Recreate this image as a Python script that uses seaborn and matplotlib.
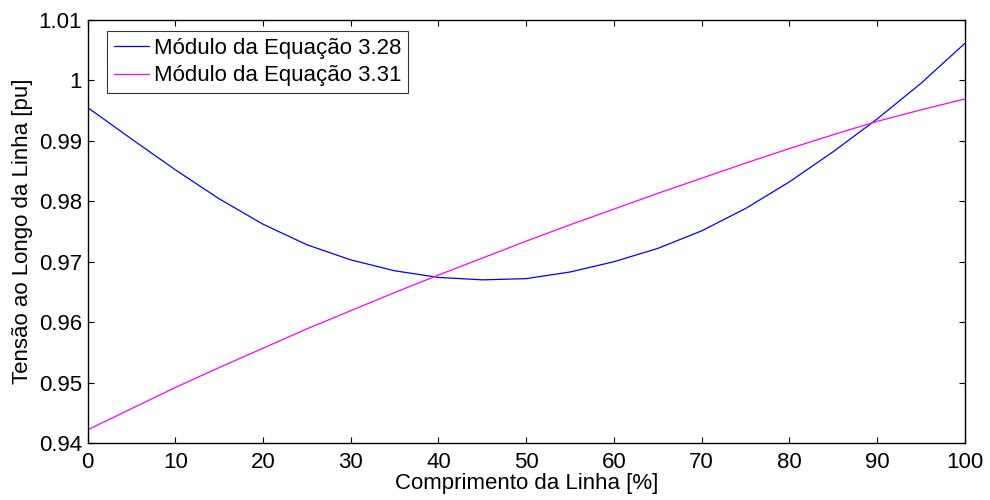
# plot.py
# - Voltage profile along the line for two equations
# - MATLAB-like look recreated with seaborn/matplotlib

import matplotlib
matplotlib.use("Agg")
import matplotlib.pyplot as plt
import pandas as pd
import seaborn as sns

# Position along the line [%]
position = [0, 5, 10, 15, 20, 25, 30, 35, 40, 45, 50,
            55, 60, 65, 70, 75, 80, 85, 90, 95, 100]

# |V| from equation 3.28 [pu]
eq_328 = [0.9955, 0.9903, 0.9852, 0.9804, 0.9762, 0.9728, 0.9703,
          0.9685, 0.9674, 0.9670, 0.9672, 0.9683, 0.9700, 0.9722,
          0.9751, 0.9788, 0.9832, 0.9882, 0.9936, 0.9995, 1.0061]

# |V| from equation 3.31 [pu]
eq_331 = [0.9422, 0.9457, 0.9492, 0.9525, 0.9557, 0.9589, 0.9619,
          0.9649, 0.9678, 0.9706, 0.9734, 0.9761, 0.9787, 0.9813,
          0.9838, 0.9863, 0.9887, 0.9910, 0.9932, 0.9951, 0.9969]

series_names = ["Módulo da Equação 3.28", "Módulo da Equação 3.31"]
x_ticks = [0, 10, 20, 30, 40, 50, 60, 70, 80, 90, 100]
y_ticks = [0.94, 0.95, 0.96, 0.97, 0.98, 0.99, 1.0, 1.01]
y_tick_labels = ["0.94", "0.95", "0.96", "0.97", "0.98", "0.99", "1", "1.01"]


def main():
    df = pd.DataFrame({
        "position": position * 2,
        "voltage": eq_328 + eq_331,
        "series": [series_names[0]] * len(position) + [series_names[1]] * len(position),
    })

    sns.set_style("ticks")
    plt.rcParams["font.family"] = ["Liberation Sans", "DejaVu Sans"]
    plt.rcParams["text.color"] = "black"
    plt.rcParams["axes.labelcolor"] = "black"
    plt.rcParams["xtick.color"] = "black"
    plt.rcParams["ytick.color"] = "black"

    fig = plt.figure(figsize=(9.9, 5.0), dpi=100)
    ax = fig.add_axes([0.0884, 0.1136, 0.8863, 0.847])

    sns.lineplot(data=df, x="position", y="voltage", hue="series",
                 palette={series_names[0]: "#0000ff", series_names[1]: "#ff00ff"},
                 linewidth=0.9, ax=ax, legend=True)

    ax.set_xlim(0, 100)
    ax.set_ylim(0.94, 1.01)
    ax.set_xticks(x_ticks)
    ax.set_xticklabels([str(t) for t in x_ticks])
    ax.set_yticks(y_ticks)
    ax.set_yticklabels(y_tick_labels)

    ax.tick_params(axis="both", direction="in", length=4.5, width=0.8,
                   labelsize=16, top=True, right=True, color="black",
                   labelcolor="black")
    ax.tick_params(axis="x", pad=6)
    ax.tick_params(axis="y", pad=4)
    for spine in ax.spines.values():
        spine.set_visible(True)
        spine.set_linewidth(1.0)
        spine.set_color("black")

    ax.set_xlabel("Comprimento da Linha [%]", fontsize=16, labelpad=0, color="black")
    ax.set_ylabel("Tensão ao Longo da Linha [pu]", fontsize=16, labelpad=4, color="black")

    leg = ax.legend(loc="upper left", bbox_to_anchor=(0.0222, 0.973),
                    fontsize=16, frameon=True, fancybox=False,
                    handlelength=1.6, handletextpad=0.2, borderpad=0.3,
                    labelspacing=0.3, borderaxespad=0)
    leg.get_frame().set_edgecolor("black")
    leg.get_frame().set_linewidth(0.8)
    for text in leg.get_texts():
        text.set_color("black")

    fig.savefig("out.png", dpi=100, facecolor="white")


if __name__ == "__main__":
    main()
